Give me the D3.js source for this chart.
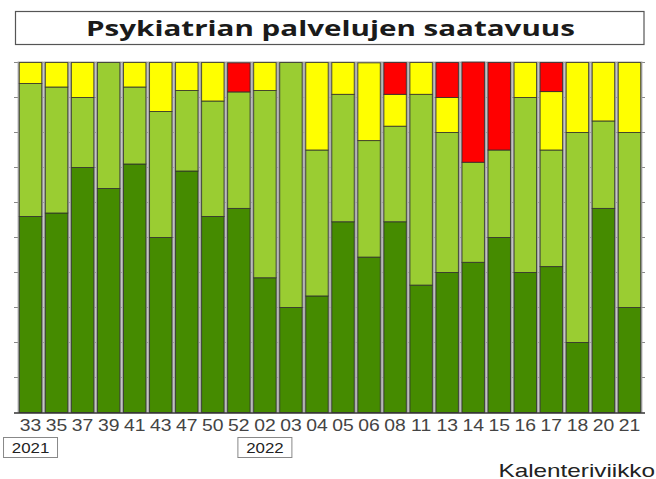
<!DOCTYPE html>
<html>
<head>
<meta charset="utf-8">
<script src="https://cdn.jsdelivr.net/npm/d3@7"></script>
<style>
  body { margin: 0; background: #fff; }
  svg { display: block; }
</style>
</head>
<body>
<div id="chart"></div>
<script>
// week numbers (x categories)
const weeks = ['33', '35', '37', '39', '41', '43', '47', '50', '52', '02', '03', '04',
  '05', '06', '08', '11', '13', '14', '15', '16', '17', '18', '20', '21'];

// shares in percent, bottom to top
const darkGreen = [56, 57, 70, 64, 71, 50, 69, 56, 58.3, 38.5, 30, 33.3,
  54.5, 44.4, 54.5, 36.4, 40, 42.9, 50, 40, 41.7, 20, 58.3, 30];
const lightGreen = [38, 36, 20, 36, 22, 36, 23, 33, 33.3, 53.5, 70, 41.7,
  36.4, 33.3, 27.3, 54.5, 40, 28.6, 25, 50, 33.3, 60, 25, 50];
const yellow = [6, 7, 10, 0, 7, 14, 8, 11, 0, 8, 0, 25,
  9.1, 22.2, 9.1, 9.1, 10, 0, 0, 10, 16.7, 20, 16.7, 20];
const red = [0, 0, 0, 0, 0, 0, 0, 0, 8.3, 0, 0, 0,
  0, 0, 9.1, 0, 10, 28.6, 25, 0, 8.3, 0, 0, 0];

const yearLabels = [{ week: '33', year: '2021' }, { week: '02', year: '2022' }];
const yTicks = [0, 10, 20, 30, 40, 50, 60, 70, 80, 90, 100];

const keys = ['darkGreen', 'lightGreen', 'yellow', 'red'];
const colors = { darkGreen: '#458b00', lightGreen: '#9acd32', yellow: '#ffff00', red: '#ff0000' };

const rows = weeks.map((w, i) => ({
  week: w,
  darkGreen: darkGreen[i],
  lightGreen: lightGreen[i],
  yellow: yellow[i],
  red: red[i]
}));

const width = 656;
const height = 479;
const plot = { left: 17.5, right: 642.5, top: 62.5, bottom: 412.5 };

const x = d3.scaleBand()
  .domain(weeks)
  .range([plot.left, plot.right])
  .paddingInner(0.1)
  .paddingOuter(0.05);

const y = d3.scaleLinear()
  .domain([0, 100])
  .range([plot.bottom, plot.top]);

const series = d3.stack().keys(keys)(rows);

const svg = d3.select('#chart')
  .append('svg')
  .attr('width', width)
  .attr('height', height)
  .attr('viewBox', [0, 0, width, height]);

// title box
svg.append('rect')
  .attr('x', 15.5)
  .attr('y', 11.5)
  .attr('width', 628.5)
  .attr('height', 33)
  .attr('fill', '#fff')
  .attr('stroke', '#555')
  .attr('stroke-width', 1.2);

svg.append('text')
  .attr('x', 86)
  .attr('y', 35.5)
  .attr('textLength', 489)
  .attr('lengthAdjust', 'spacingAndGlyphs')
  .style('font', 'bold 22px "Open Sans", sans-serif')
  .attr('fill', '#1a1a1a')
  .text('Psykiatrian palvelujen saatavuus');

// grid lines (visible in the gaps between bars)
svg.append('g')
  .selectAll('line')
  .data(yTicks.slice(1))
  .join('line')
  .attr('x1', 14)
  .attr('x2', 645)
  .attr('y1', d => y(d))
  .attr('y2', d => y(d))
  .attr('stroke', '#888')
  .attr('stroke-width', 1);

// gray shadow behind each bar
svg.append('g')
  .selectAll('rect')
  .data(weeks)
  .join('rect')
  .attr('x', d => x(d) - 1.2)
  .attr('y', plot.top - 1)
  .attr('width', x.bandwidth() + 2.4)
  .attr('height', plot.bottom - plot.top + 1)
  .attr('fill', '#a8a8a8');

svg.append('g')
  .selectAll('g')
  .data(series)
  .join('g')
  .attr('fill', d => colors[d.key])
  .selectAll('rect')
  .data(d => d.filter(s => s[1] - s[0] > 0))
  .join('rect')
  .attr('x', d => x(d.data.week) + 0.5)
  .attr('y', d => y(d[1]))
  .attr('width', x.bandwidth() - 1)
  .attr('height', d => y(d[0]) - y(d[1]))
  .attr('stroke', '#2e2e2e')
  .attr('stroke-opacity', 0.8)
  .attr('stroke-width', 1);

// baseline
svg.append('line')
  .attr('x1', 14)
  .attr('x2', 645)
  .attr('y1', plot.bottom + 0.5)
  .attr('y2', plot.bottom + 0.5)
  .attr('stroke', '#333')
  .attr('stroke-width', 1.5);

// week labels
svg.append('g')
  .selectAll('text')
  .data(weeks)
  .join('text')
  .attr('transform', d => `translate(${x(d) + x.bandwidth() / 2},430.5) scale(1.21,1)`)
  .attr('text-anchor', 'middle')
  .style('font', '16px "Liberation Sans", Arial, sans-serif')
  .attr('fill', '#444')
  .text(d => d);

// year boxes
const yearG = svg.append('g')
  .selectAll('g')
  .data(yearLabels)
  .join('g')
  .attr('transform', d => `translate(${x(d.week) + x.bandwidth() / 2},0)`);

yearG.append('rect')
  .attr('x', -27)
  .attr('y', 437.5)
  .attr('width', 54)
  .attr('height', 20)
  .attr('fill', '#fff')
  .attr('stroke', '#888')
  .attr('stroke-width', 1);

yearG.append('text')
  .attr('y', 453.3)
  .attr('text-anchor', 'middle')
  .attr('textLength', 37.5)
  .attr('lengthAdjust', 'spacingAndGlyphs')
  .style('font', '15px "Liberation Sans", Arial, sans-serif')
  .attr('fill', '#222')
  .text(d => d.year);

svg.append('text')
  .attr('x', 498.5)
  .attr('y', 476.5)
  .attr('textLength', 156.5)
  .attr('lengthAdjust', 'spacingAndGlyphs')
  .style('font', '18.5px "Liberation Sans", Arial, sans-serif')
  .attr('fill', '#222')
  .text('Kalenteriviikko');
</script>
</body>
</html>
